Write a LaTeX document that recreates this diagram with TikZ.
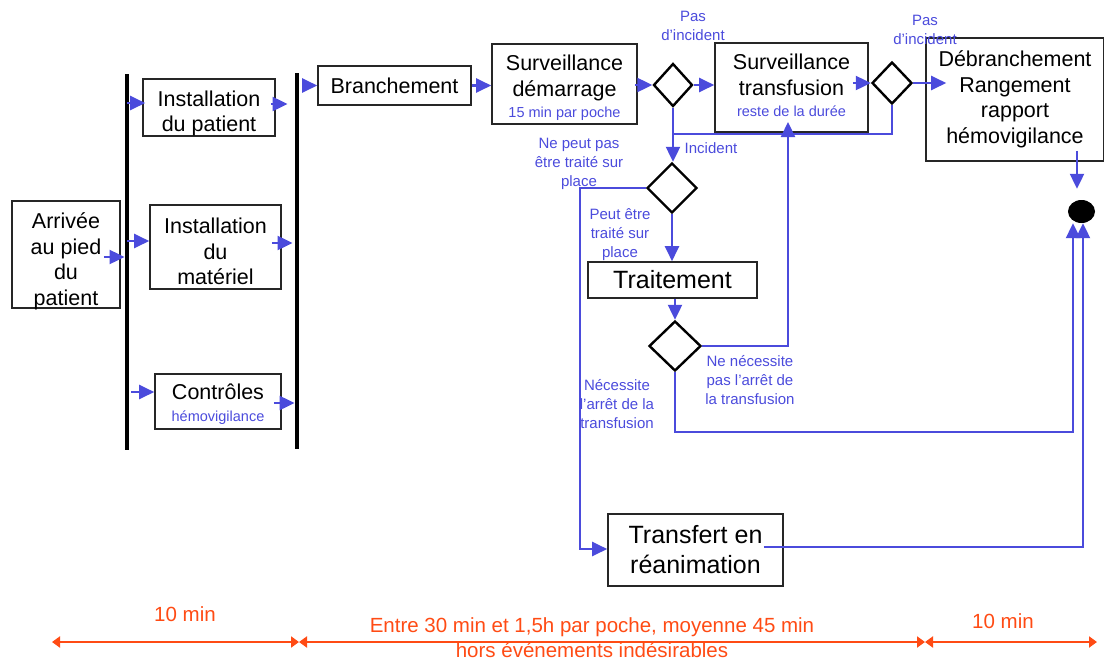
\documentclass[tikz,border=0pt]{standalone}
\usepackage{fontspec}
\setmainfont{Liberation Sans}
\usetikzlibrary{shapes.geometric,arrows.meta,calc}
\definecolor{lblue}{RGB}{75,75,220}
\definecolor{orng}{RGB}{255,75,20}
\newcommand\fsz[2]{\fontsize{#1}{#2}\selectfont}
\begin{document}
\begin{tikzpicture}[x=1pt,y=-1pt,
 box/.style={draw=black!85,line width=1.6pt,rectangle,inner sep=0pt,align=center,font=\fsz{21.5}{25.5}},
 txt/.style={inner sep=0pt,align=center,font=\fsz{21.5}{25.5}},
 bigbox/.style={box,font=\fsz{25}{30}},
 dia/.style={draw=black,line width=2.4pt,diamond,inner sep=0pt},
 bar/.style={fill=black,inner sep=0pt,minimum width=4.5pt},
 arr/.style={draw=lblue,line width=2.2pt,-{Triangle[length=15pt,width=14pt]}},
 ln/.style={draw=lblue,line width=2.2pt},
 lab/.style={text=lblue,font=\fsz{15}{19},align=center,inner sep=0pt},
 oarr/.style={draw=orng,line width=2pt,{Triangle[length=8pt,width=11pt]}-{Triangle[length=8pt,width=11pt]}},
 olab/.style={text=orng,font=\fsz{20.5}{25},align=center,inner sep=0pt}]
\useasboundingbox (0,0) rectangle (1104,662);

% boxes
\node[box,minimum width=108,minimum height=107] (arr) at (66,254.5) {};
\node[txt] (arrt) at ([yshift=-7]arr.center) {Arrivée\\au pied\\du\\patient};
\node[bar,minimum height=376] (bar1) at (127,262) {};
\node[bar,minimum height=376] (bar2) at (297,261) {};
\node[box,minimum width=132,minimum height=57] (ip) at (209,107.5) {};
\node[txt] (ipt) at ([yshift=-6]ip.center) {Installation\\du patient};
\node[box,minimum width=131,minimum height=84] (im) at (215.5,247) {};
\node[txt] (imt) at ([yshift=-4.5]im.center) {Installation\\du\\matériel};
\node[box,minimum width=126,minimum height=55] (ctl) at (218,401.5) {};
\node[txt] (ctlt) at ([yshift=-2.5]ctl.center) {Contrôles\\[-4pt]{\fsz{14.5}{17}\color{lblue}hémovigilance}};
\node[box,minimum width=153,minimum height=39] (br) at (394.5,85.5) {Branchement};
\node[box,minimum width=145,minimum height=80] (sd) at (564.5,84) {};
\node[txt] (sdt) at ([yshift=-4]sd.center) {Surveillance\\démarrage\\[-4pt]{\fsz{14.5}{17}\color{lblue}15 min par poche}};
\node[box,minimum width=153,minimum height=89] (st) at (791.5,87.5) {};
\node[txt] (stt) at ([yshift=2]st.center) {Surveillance\\transfusion\\[-4pt]{\fsz{14.5}{17}\color{lblue}reste de la durée}};
\node[box,minimum width=178,minimum height=123] (deb) at (1015,99.5) {Débranchement\\Rangement\\rapport\\hémovigilance};
\node[bigbox,minimum width=169,minimum height=36] (tr) at (672.5,280) {Traitement};
\node[bigbox,minimum width=175,minimum height=72] (tf) at (695.5,550) {Transfert en\\réanimation};

% diamonds
\node[dia,minimum width=39,minimum height=43] (d1) at (673,85) {};
\node[dia,minimum width=40,minimum height=42] (d2) at (892,83) {};
\node[dia,minimum width=50,minimum height=50] (d3) at (672,188) {};
\node[dia,minimum width=52,minimum height=50] (d4) at (675,346) {};
\node[ellipse,fill=black,inner sep=0pt,minimum width=27,minimum height=23] (endc) at (1081.5,211.5) {};

% labels
\node[lab] (l1) at (693,25.5) {Pas\\d’incident};
\node[lab] (l2) at (925,30) {Pas\\d’incident};
\node[lab] (l3) at (579,164) {Ne peut pas\\être traité sur\\place};
\node[lab] (l4) at (711,148) {Incident};
\node[lab] (l5) at (620,235) {Peut être\\traité sur\\place};
\node[lab] (l6) at (750,380) {Ne nécessite\\pas l’arrêt de\\la transfusion};
\node[lab] (l7) at (617,404) {Nécessite\\l’arrêt de la\\transfusion};

% left connectors
\draw[arr] ([xshift=-17,yshift=-2.5]arr.east) -- ([yshift=-2.5]arr.east -| bar1.west);
\draw[arr] ([yshift=4.5]ip.west -| bar1.center) -- ([xshift=3,yshift=4.5]ip.west);
\draw[arr] ([yshift=6]im.west -| bar1.center) -- ([yshift=6]im.west);
\draw[arr] ([xshift=2,yshift=9.5]ctl.west -| bar1.east) -- ([yshift=9.5]ctl.west);
\draw[arr] ([xshift=-5,yshift=3.5]ip.east) -- ([xshift=-7,yshift=3.5]ip.east -| bar2.west);
\draw[arr] ([xshift=-10,yshift=4]im.east) -- ([xshift=-2,yshift=4]im.east -| bar2.west);
\draw[arr] ([xshift=-8,yshift=-1.5]ctl.east) -- ([yshift=-1.5]ctl.east -| bar2.west);
\draw[arr] ([xshift=4]br.west -| bar2.east) -- (br.west);
\draw[arr] (br.east) -- (br.east -| sd.west);

% main flow
\draw[arr] ([xshift=-3,yshift=-1]sd.east) -- (d1.west);
\draw[arr] (d1.east) -- (d1.east -| st.west);
\draw[arr] ([xshift=-16]st.east |- d2.west) -- (d2.west);
\draw[arr] (d2.east) -- ([xshift=21]d2.east -| deb.west);
\draw[arr] ([xshift=62,yshift=11]deb.south) -- ([xshift=62,yshift=11]deb.south |- endc.north);

\coordinate (j1) at (673,134);
\draw[ln] (d2.south) |- (j1);
\draw[arr] (d1.south) -- (d1.south |- d3.north);
\draw[arr] (d3.west) -- ++(-66,0) |- ([yshift=1]tf.west);
\draw[arr] (d3.south) -- (d3.south |- tr.north);
\draw[arr] (tr.south -| d4.north) -- (d4.north);
\coordinate (stin) at (788,122);
\draw[arr] (d4.east) -| (stin);
\coordinate (c1) at (1073,432);
\draw[arr] (d4.south) |- (c1) -- (c1 |- endc.south);
\coordinate (c2) at (1083,547);
\draw[arr] ([xshift=-20,yshift=3]tf.east) -- (c2) -- (c2 |- endc.south);

% timeline
\coordinate (o1) at (52,642);
\coordinate (o2) at (299,642);
\coordinate (o3) at (925,642);
\coordinate (o4) at (1097,642);
\draw[oarr] (o1) -- (o2);
\draw[oarr] (o2) -- (o3);
\draw[oarr] (o3) -- (o4);
\node[olab] (t1) at (185,614) {10 min};
\node[olab] (t2) at (592,637.5) {Entre 30 min et 1,5h par poche, moyenne 45 min\\hors événements indésirables};
\node[olab] (t3) at (1003,621) {10 min};
\end{tikzpicture}
\end{document}
